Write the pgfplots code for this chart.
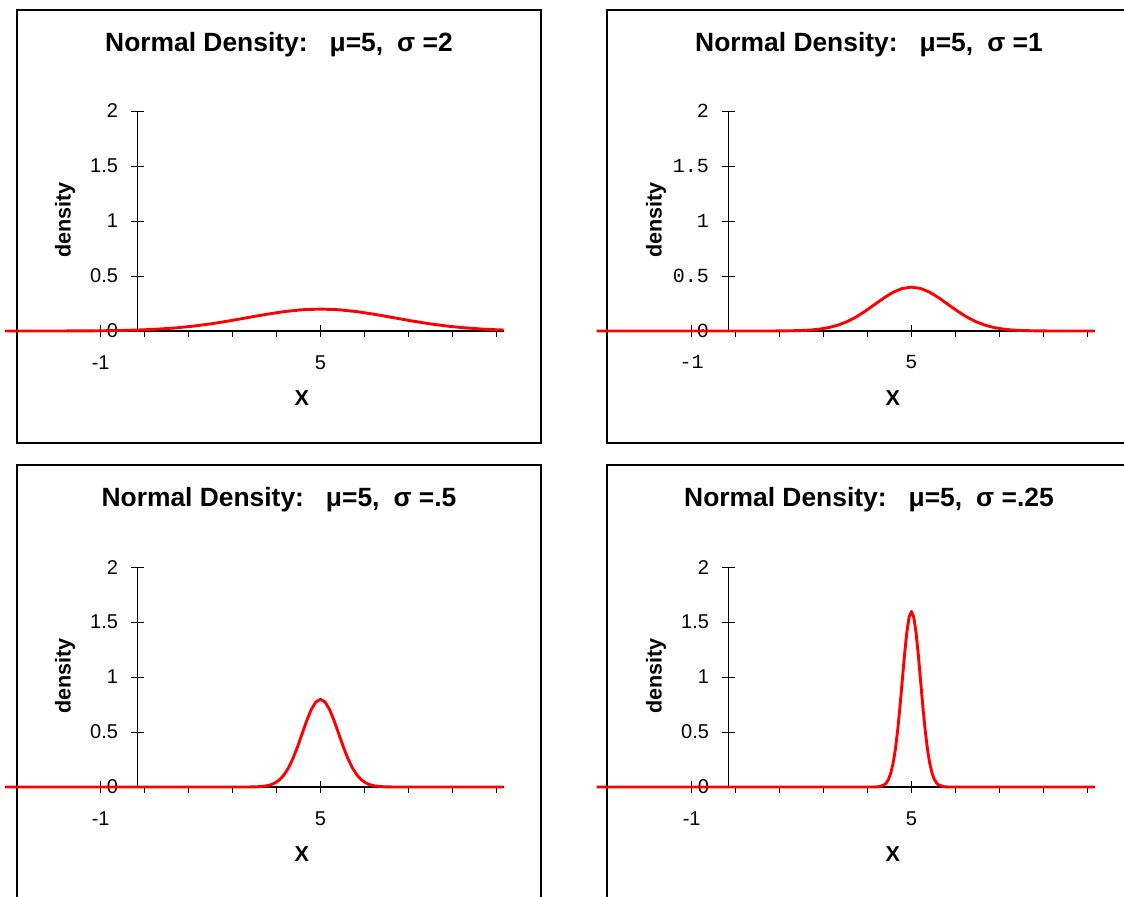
\documentclass[border=0pt]{standalone}
\usepackage{fontspec}
\setmainfont{Liberation Sans}
\setmonofont{Liberation Mono}
\usepackage{pgfplots}
\pgfplotsset{compat=1.18}
\pgfplotsset{
  panel/.style={
    scale only axis,
    width=249pt, height=110pt,
    anchor=south west,
    xmin=-3.6, xmax=10, ymin=0, ymax=2,
    clip=false,
    axis x line=bottom,
    axis y line=middle,
    hide obscured x ticks=false,
    hide obscured y ticks=false,
    axis line style={-, line width=0.7pt, black},
    tick style={line width=0.5pt, black},
    tick align=outside,
    major tick length=3pt,
    xtick={-1,0.2,1.4,2.6,3.8,5,6.2,7.4,8.6,9.8},
    xticklabels={-1,,,,,5,,,,},
    ytick=\empty,
    extra y ticks={0,0.5,1,1.5,2},
    extra y tick labels={0,0.5,1,1.5,2},
    extra y tick style={tick align=center, major tick length=6.5pt},
    extra x ticks={-1,5},
    extra x tick labels={},
    extra x tick style={tick align=center, major tick length=6pt},
    tick label style={font=\fontsize{10}{12}\selectfont},
    xticklabel style={anchor=north, yshift=-5.6pt},
    yticklabel style={anchor=east, xshift=-2.9pt},
    xlabel={X}, ylabel={density},
    label style={font=\bfseries\fontsize{10.8}{12}\selectfont},
    xlabel style={at={(axis description cs:0.595,-0.305)}, anchor=center},
    ylabel style={at={(axis description cs:0.1195,0.505)}, anchor=center, rotate=90},
  },
  curve/.style={red, line width=1.45pt, line join=round, mark=none},
}
\begin{document}
\begin{tikzpicture}
\path[use as bounding box] (0,0) rectangle (562pt,-448pt);
\draw[line width=0.75pt] (8.5pt,-5pt) rectangle (270.5pt,-221.5pt);
\draw[line width=0.75pt] (303.5pt,-5pt) rectangle (565.5pt,-221.5pt);
\draw[line width=0.75pt] (8.5pt,-232.5pt) rectangle (270.5pt,-449pt);
\draw[line width=0.75pt] (303.5pt,-232.5pt) rectangle (565.5pt,-449pt);
\tikzset{ttl/.style={font=\bfseries\fontsize{13.2}{15}\selectfont, anchor=center}}
\node[ttl] at (139.5pt,-22.5pt) {Normal Density:\hspace{11pt}μ=5,\hspace{7pt}σ =2};
\node[ttl] at (434.5pt,-22.5pt) {Normal Density:\hspace{11pt}μ=5,\hspace{7pt}σ =1};
\node[ttl] at (139.5pt,-250pt) {Normal Density:\hspace{11pt}μ=5,\hspace{7pt}σ =.5};
\node[ttl] at (434.5pt,-250pt) {Normal Density:\hspace{11pt}μ=5,\hspace{7pt}σ =.25};

\begin{axis}[panel, at={(2.75pt,-165.5pt)}]
\addplot[curve] coordinates {(-3.6,0.00002) (-3,0.00007) (-2,0.00044) (-1,0.00222) (-0.5,0.00455) (0,0.00876) (0.5,0.01587) (1,0.02700) (1.5,0.04314) (2,0.06476) (2.5,0.09133) (3,0.12099) (3.5,0.15057) (4,0.17603) (4.5,0.19333) (5,0.19947) (5.5,0.19333) (6,0.17603) (6.5,0.15057) (7,0.12099) (7.5,0.09133) (8,0.06476) (8.5,0.04314) (9,0.02700) (9.5,0.01587) (10,0.00876)};
\end{axis}

\begin{axis}[panel, at={(298.25pt,-165.5pt)}, tick label style={font=\ttfamily\fontsize{10}{12}\selectfont}]
\addplot[curve] coordinates {(-3.6,0) (0,0.0000015) (1,0.00013) (1.5,0.00087) (2,0.00443) (2.25,0.00909) (2.5,0.01753) (2.75,0.03174) (3,0.05399) (3.25,0.08628) (3.5,0.12952) (3.75,0.18265) (4,0.24197) (4.25,0.30114) (4.5,0.35207) (4.75,0.38667) (5,0.39894) (5.25,0.38667) (5.5,0.35207) (5.75,0.30114) (6,0.24197) (6.25,0.18265) (6.5,0.12952) (6.75,0.08628) (7,0.05399) (7.25,0.03174) (7.5,0.01753) (7.75,0.00909) (8,0.00443) (8.5,0.00087) (9,0.00013) (10,0.0000015)};
\end{axis}

\begin{axis}[panel, at={(2.75pt,-393.5pt)}]
\addplot[curve] coordinates {(-3.6,0) (2.5,0.000003) (3,0.00027) (3.25,0.00175) (3.5,0.00886) (3.625,0.01819) (3.75,0.03506) (3.875,0.06348) (4,0.10798) (4.125,0.17255) (4.25,0.25904) (4.375,0.36530) (4.5,0.48394) (4.625,0.60227) (4.75,0.70413) (4.875,0.77334) (5,0.79788) (5.125,0.77334) (5.25,0.70413) (5.375,0.60227) (5.5,0.48394) (5.625,0.36530) (5.75,0.25904) (5.875,0.17255) (6,0.10798) (6.125,0.06348) (6.25,0.03506) (6.375,0.01819) (6.5,0.00886) (6.75,0.00175) (7,0.00027) (7.5,0.000003) (10,0)};
\end{axis}

\begin{axis}[panel, at={(298.25pt,-393.5pt)}]
\addplot[curve] coordinates {(-3.6,0) (3.75,0.000006) (4,0.00054) (4.125,0.00349) (4.25,0.01773) (4.3125,0.03638) (4.375,0.07011) (4.4375,0.12696) (4.5,0.21596) (4.5625,0.34511) (4.625,0.51807) (4.6875,0.73060) (4.75,0.96788) (4.8125,1.20455) (4.875,1.40826) (4.9375,1.54667) (5,1.59577) (5.0625,1.54667) (5.125,1.40826) (5.1875,1.20455) (5.25,0.96788) (5.3125,0.73060) (5.375,0.51807) (5.4375,0.34511) (5.5,0.21596) (5.5625,0.12696) (5.625,0.07011) (5.6875,0.03638) (5.75,0.01773) (5.875,0.00349) (6,0.00054) (6.25,0.000006) (10,0)};
\end{axis}
\end{tikzpicture}
\end{document}
